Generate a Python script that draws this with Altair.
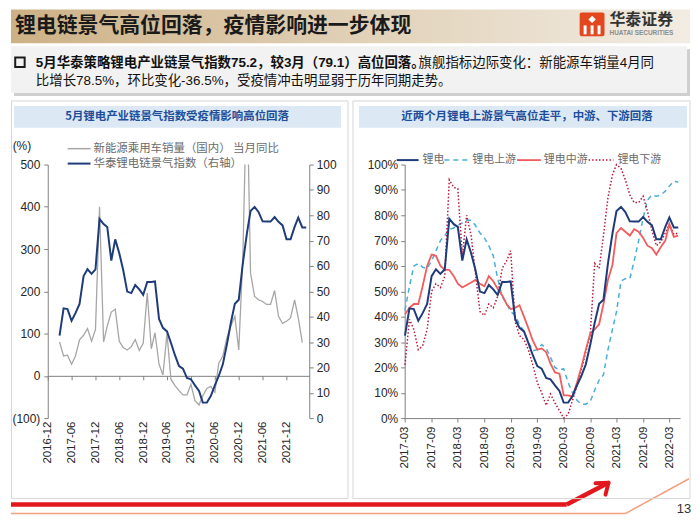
import altair as alt
import pandas as pd

# ---------------- data ----------------
months = [d.strftime("%Y/%m/%d") for d in pd.date_range("2017-03-01", "2022-05-01", freq="MS")]

# 华泰锂电链景气指数 (= 锂电), 2017-03 .. 2022-05
index_vals = [32.5, 43.3, 43.0, 38.4, 41.4, 45.0, 56.0, 58.7, 56.9, 58.7,
              78.6, 76.5, 75.4, 62.1, 70.5, 65.0, 58.4, 49.9, 49.3, 52.5,
              50.8, 48.6, 53.7, 53.7, 53.9, 39.1, 35.6, 34.2, 29.7, 24.8,
              20.5, 19.5, 15.8, 15.3, 12.9, 10.7, 6.1, 6.1, 8.7, 12.9,
              16.6, 21.2, 29.0, 37.5, 45.1, 46.7, 61.0, 72.8, 81.7, 83.3,
              81.3, 77.6, 77.5, 77.5, 79.3, 77.4, 76.0, 70.5, 70.5, 75.4,
              79.1, 75.2, 75.2]

# 新能源乘用车销量（国内）当月同比 (%), 2017-03 .. 2022-04
nev_yoy = [80, 47, 49, 27.5, 47, 85, 96, 112, 82, 110,
           400, 80, 118, 151, 158, 82, 67, 61, 69, 86,
           60, 77, 196, 64, 102, 27.5, 2, 100, -8, -23,
           -35, -45, -45, -20, -59, -69, -47, -30, -25, -39,
           30, 47, 90, 118, 141, 61, 280, 700, 243, 188,
           180, 176, 169, 169, 202, 141, 124, 129, 137, 180,
           137, 78.5]

upstream = [42.5, 52, 60, 61, 59.5, 59, 62, 66, 70, 72,
            74.5, 75, 76, 77, 78, 78, 76, 73, 71, 68,
            64, 55, 48, 45, 42, 40.5, 37, 34, 30, 26.5,
            27, 29, 27.5, 24, 20, 19, 19.5, 14, 10, 7,
            5.5, 5.5, 6.5, 11, 15, 17, 27, 35, 42, 54,
            55, 55, 62, 70, 79, 86, 88, 87.5, 88, 89.5,
            91.5, 93.5, 93]

midstream = [41, 43.5, 45, 45, 52, 60, 64.5, 64, 60, 58.5,
             58.5, 56, 53, 51.5, 52.5, 53.5, 54.5, 53, 52, 56,
             54, 51, 48.5, 45, 43, 43.5, 44.5, 40, 35.5, 30.5,
             27, 27.5, 26, 21.5, 18, 17.5, 9, 9, 8.5, 14,
             20, 27, 33.5, 35, 37, 45, 54.5, 60.5, 73, 75,
             73.5, 72, 74.5, 73.5, 71, 68, 67, 64.5, 67.5, 70,
             76.5, 71.5, 72]

downstream = [21, 39, 35, 27, 28.5, 35, 50, 53, 51.5, 56,
              94, 91, 90.5, 64, 80, 72, 57, 42, 40.5, 45,
              43.5, 48, 59, 62, 66, 38, 32.5, 31, 27, 21,
              14, 10, 5, 9.5, 6, 3, 0, 1.5, 7, 13,
              19, 26, 33, 61, 59, 72, 87, 96, 100, 98.5,
              94, 88, 85, 85, 87.5, 81.5, 74, 68, 69.5, 73,
              76.5, 72.5, 73]

left_ticks = [(2016, 12), (2017, 6), (2017, 12), (2018, 6), (2018, 12), (2019, 6),
              (2019, 12), (2020, 6), (2020, 12), (2021, 6), (2021, 12)]
right_ticks = [(2017, 3), (2017, 9), (2018, 3), (2018, 9), (2019, 3), (2019, 9),
               (2020, 3), (2020, 9), (2021, 3), (2021, 9), (2022, 3)]

title_text = "锂电链景气高位回落，疫情影响进一步体现"
bullet_bold = "5月华泰策略锂电产业链景气指数75.2，较3月（79.1）高位回落。"
bullet_reg1 = "旗舰指标边际变化：新能源车销量4月同"
bullet_reg2 = "比增长78.5%，环比变化-36.5%，受疫情冲击明显弱于历年同期走势。"
left_sub = "5月锂电产业链景气指数受疫情影响高位回落"
right_sub = "近两个月锂电上游景气高位走平，中游、下游回落"
left_legend = ["新能源乘用车销量（国内） 当月同比", "华泰锂电链景气指数（右轴）"]
right_legend = ["锂电", "锂电上游", "锂电中游", "锂电下游"]

idx_df = pd.DataFrame({"date": months, "v": index_vals})
nev_df = pd.DataFrame({"date": months[:len(nev_yoy)], "v": nev_yoy})
up_df = pd.DataFrame({"date": months, "v": upstream})
mid_df = pd.DataFrame({"date": months, "v": midstream})
down_df = pd.DataFrame({"date": months, "v": downstream})
dummy = pd.DataFrame({"k": [0]})

CJK = "Noto Sans CJK SC"
MIX = "Liberation Sans, Noto Sans CJK SC"
NAVY = "#1F3C7A"
GRAY = "#A6A6A6"
CYAN = "#4AAED8"
CORAL = "#F25C5C"
DRED = "#B8183C"
AX = "#808080"


def rect(x, x2, y, y2, **kw):
    return alt.Chart(dummy).mark_rect(**kw).encode(
        x=alt.value(x), x2=alt.value(x2), y=alt.value(y), y2=alt.value(y2))


def rule(x, x2, y, y2, **kw):
    return alt.Chart(dummy).mark_rule(**kw).encode(
        x=alt.value(x), x2=alt.value(x2), y=alt.value(y), y2=alt.value(y2))


def text(x, y, s, **kw):
    kw.setdefault("baseline", "middle")
    return alt.Chart(dummy).mark_text(**kw).encode(
        x=alt.value(x), y=alt.value(y), text=alt.value(s))


def dt(y, m, d=1):
    return alt.DateTime(year=y, month=m, date=d)


# ---------------- left panel (origin = page (45,164)) ----------------
banner_grad = alt.LinearGradient(
    gradient="linear", x1=0, x2=1, y1=0, y2=0,
    stops=[alt.GradientStop(color="#CDB186", offset=0),
           alt.GradientStop(color="#E2D3BB", offset=0.55),
           alt.GradientStop(color="#F2ECE3", offset=1)])

deco_left = [
    rect(-37, 646, -156, -122, fill=banner_grad),
    text(-33, -139, title_text, font=CJK, fontSize=21, fontWeight="bold", color="#1A1A1A", align="left"),
    rect(535, 560, -153, -129, fill="#E4461E", cornerRadius=2),
    alt.Chart(dummy).mark_point(shape="diamond", filled=True, color="white", size=55, opacity=1).encode(
        x=alt.value(547.5), y=alt.value(-146)),
    rect(539, 542, -140, -131, fill="white"),
    rect(546, 549, -140, -131, fill="white"),
    rect(553, 556, -140, -131, fill="white"),
    text(565, -145, "华泰证券", font=CJK, fontSize=16, fontWeight="bold", color="#333333", align="left"),
    text(565, -132, "HUATAI SECURITIES", font="Liberation Sans", fontSize=6.5, fontWeight="bold",
         color="#8C8C8C", align="left"),
    rect(-34, 646, -116, -69, fill="#CFCFCF"),
    rect(-37, 643, -119, -72, fill="#F2F2F2"),
    alt.Chart(dummy).mark_point(shape="square", filled=False, color="#1A1A1A", size=90, strokeWidth=2,
                                opacity=1).encode(x=alt.value(-28), y=alt.value(-103)),
    text(-12, -102, bullet_bold, font=MIX, fontSize=13.5, fontWeight="bold", color="#111111", align="left"),
    text(373, -102, bullet_reg1, font=MIX, fontSize=13.5, color="#111111", align="left"),
    text(-12, -84, bullet_reg2, font=MIX, fontSize=13.5, color="#111111", align="left"),
    rect(-36.5, 302, -64, 336, fill="white", fillOpacity=0, stroke="#D6D6D6", strokeWidth=1),
    rect(-34, 295, -59, -37, fill="#DCE9F5"),
    text(130, -48, left_sub, font=CJK, fontSize=11.5, fontWeight="bold", color="#1F4E9A"),
    text(-26, -19, "(%)", font="Liberation Sans", fontSize=12, color="#262626"),
    rule(20, 43, -16, -16, color=GRAY, strokeWidth=1.5),
    text(46, -16, left_legend[0], font=CJK, fontSize=11.5, color="#6B6B6B", align="left"),
    rule(20, 43, -1, -1, color=NAVY, strokeWidth=2),
    text(46, -1, left_legend[1], font=CJK, fontSize=11.5, color="#6B6B6B", align="left"),
    # footer
    rule(-37, 522, 342, 342, color="#E3171E", strokeWidth=4.5),
    rule(522, 562, 342, 321, color="#E3171E", strokeWidth=4.5),
    rule(564, 551, 320, 320.5, color="#E3171E", strokeWidth=4, strokeCap="round"),
    rule(564, 561, 320, 332, color="#E3171E", strokeWidth=4, strokeCap="round"),
    rule(-37, 581, 351, 351, color="#F3A07E", strokeWidth=1.5),
    rule(581, 645, 351, 316, color="#F3A07E", strokeWidth=1.5),
    text(640, 346, "13", font="Liberation Sans", fontSize=13, color="#333333"),
]

x_left = alt.X(
    "date:T",
    scale=alt.Scale(domain=[dt(2016, 12, 1), dt(2022, 5, 24)]),
    axis=alt.Axis(values=[dt(y, m) for y, m in left_ticks], format="%Y-%m", labelAngle=270,
                  offset=-42.5, labelPadding=41.5, tickSize=4, labelFlush=False, labelOverlap=False,
                  labelFontSize=11.5, title=None, grid=False),
)

gray_line = alt.Chart(nev_df).mark_line(color=GRAY, strokeWidth=1.3, clip=True).encode(
    x=x_left,
    y=alt.Y("v:Q", scale=alt.Scale(domain=[-100, 500], nice=False),
            axis=alt.Axis(orient="left", values=list(range(-100, 501, 100)), tickSize=4, labelPadding=4,
                          labelFontSize=12, title=None, grid=False,
                          labelExpr="datum.value < 0 ? '(' + (-datum.value) + ')' : datum.label")),
)
blue_line = alt.Chart(idx_df).mark_line(color=NAVY, strokeWidth=2).encode(
    x=x_left,
    y=alt.Y("v:Q", scale=alt.Scale(domain=[0, 100], nice=False),
            axis=alt.Axis(orient="right", values=list(range(0, 101, 10)), tickSize=4, labelPadding=3,
                          labelFontSize=12, title=None, grid=False)),
)

left = alt.layer(*deco_left, gray_line, blue_line).resolve_scale(y="independent").properties(
    width=263, height=255)

# ---------------- right panel (origin = page (404,164)) ----------------
deco_right = [
    rect(-52, 287, -64, 336, fill="white", fillOpacity=0, stroke="#D6D6D6", strokeWidth=1),
    rect(-46, 284, -59, -37, fill="#DCE9F5"),
    text(123, -48, right_sub, font=CJK, fontSize=11.5, fontWeight="bold", color="#1F4E9A"),
    rule(-8, 14, -4.5, -4.5, color=NAVY, strokeWidth=2),
    text(18, -4.5, right_legend[0], font=CJK, fontSize=11, color="#6B6B6B", align="left"),
    rule(40, 63, -4.5, -4.5, color=CYAN, strokeWidth=1.5, strokeDash=[5, 4]),
    text(68, -4.5, right_legend[1], font=CJK, fontSize=11, color="#6B6B6B", align="left"),
    rule(113, 137, -4.5, -4.5, color=CORAL, strokeWidth=1.8),
    text(140, -4.5, right_legend[2], font=CJK, fontSize=11, color="#6B6B6B", align="left"),
    rule(185, 210, -4.5, -4.5, color=DRED, strokeWidth=1.5, strokeDash=[1.5, 2]),
    text(214, -4.5, right_legend[3], font=CJK, fontSize=11, color="#6B6B6B", align="left"),
]

x_right = alt.X(
    "date:T",
    scale=alt.Scale(domain=[dt(2017, 2, 27), dt(2022, 5, 14)]),
    axis=alt.Axis(values=[dt(y, m) for y, m in right_ticks], format="%Y-%m", labelAngle=270,
                  tickSize=4, labelPadding=4, labelFlush=False, labelOverlap=False,
                  labelFontSize=11.5, title=None, grid=False),
)
y_right = alt.Y("v:Q", scale=alt.Scale(domain=[0, 100], nice=False),
                axis=alt.Axis(orient="left", values=list(range(0, 101, 10)), tickSize=4, labelPadding=3,
                              labelFontSize=12, title=None, grid=False, labelExpr="datum.value + '%'"))

up_line = alt.Chart(up_df).mark_line(color=CYAN, strokeWidth=1.5, strokeDash=[5, 4]).encode(x=x_right, y=y_right)
down_line = alt.Chart(down_df).mark_line(color=DRED, strokeWidth=1.5, strokeDash=[1.5, 2]).encode(x=x_right, y=y_right)
mid_line = alt.Chart(mid_df).mark_line(color=CORAL, strokeWidth=1.8).encode(x=x_right, y=y_right)
all_line = alt.Chart(idx_df).mark_line(color=NAVY, strokeWidth=2).encode(x=x_right, y=y_right)

right = alt.layer(*deco_right, up_line, down_line, mid_line, all_line).properties(width=277, height=255)

chart = alt.hconcat(left, right, spacing=96, bounds="flush").properties(
    padding={"left": 0, "top": 0, "right": 0, "bottom": 0}
).configure_view(strokeWidth=0).configure_axis(
    labelFont="Liberation Sans", labelColor="#262626", domainColor=AX, tickColor=AX, grid=False
)

chart.save("out.html", embed_options={"renderer": "svg", "actions": False})
